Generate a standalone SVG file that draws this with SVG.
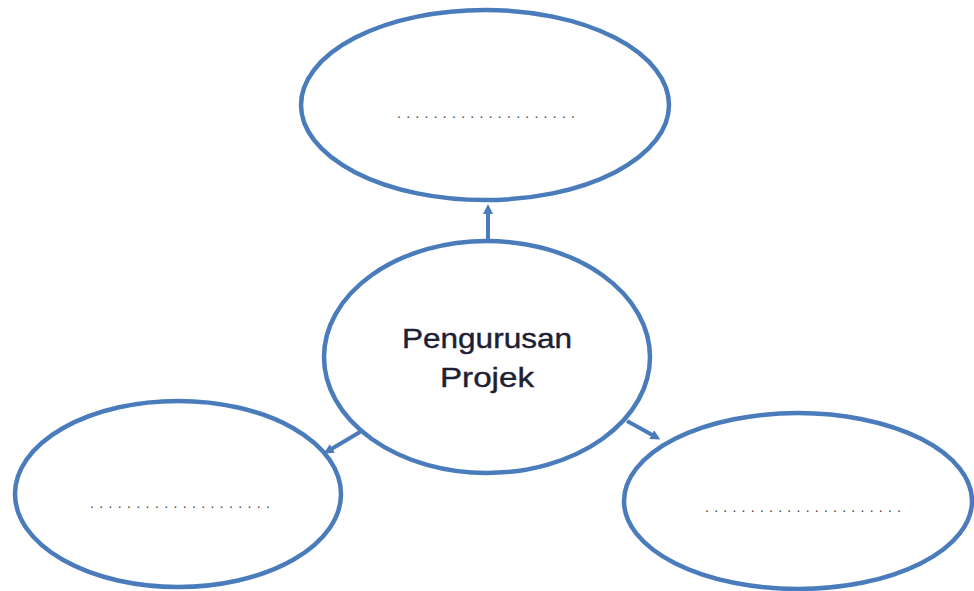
<svg xmlns="http://www.w3.org/2000/svg" width="974" height="591" viewBox="0 0 974 591">
<style>
.node ellipse{fill:#fff;stroke:#4a7cbc;stroke-width:4.5}
.lbl{font-family:"Liberation Sans",Arial,sans-serif;font-size:28px;fill:#202034;stroke:#202034;stroke-width:0.4;text-anchor:middle}
.dots{font-family:"Liberation Sans",Arial,sans-serif;font-size:14px;fill:#444;text-anchor:start}
.conn line{stroke:#4a7cbc;stroke-width:4}
</style>
<defs>
<marker id="ah" markerWidth="10" markerHeight="10" refX="5" refY="5" orient="auto" markerUnits="userSpaceOnUse" viewBox="0 0 10 10">
<path d="M0,0 L10,5 L0,10 z" fill="#4a7cbc"/>
</marker>
</defs>
<rect width="974" height="591" fill="#fff"/>
<g id="connectors" class="conn">
<line x1="488" y1="240" x2="488" y2="209" marker-end="url(#ah)"/>
<line x1="360" y1="432" x2="328" y2="451" marker-end="url(#ah)"/>
<line x1="627" y1="421" x2="656" y2="437" marker-end="url(#ah)"/>
</g>
<g id="top" class="node">
<ellipse cx="485" cy="105" rx="184" ry="95"/>
<text class="dots" x="397" y="118" textLength="178" lengthAdjust="spacing">....................</text>
</g>
<g id="center" class="node">
<ellipse cx="487" cy="357" rx="163" ry="116"/>
<text class="lbl" x="487" y="348" textLength="170" lengthAdjust="spacingAndGlyphs">Pengurusan</text>
<text class="lbl" x="487" y="387" textLength="94" lengthAdjust="spacingAndGlyphs">Projek</text>
</g>
<g id="left" class="node">
<ellipse cx="178" cy="494" rx="163" ry="93"/>
<text class="dots" x="90" y="508" textLength="180" lengthAdjust="spacing">....................</text>
</g>
<g id="right" class="node">
<ellipse cx="798" cy="501" rx="174" ry="88"/>
<text class="dots" x="705" y="512" textLength="196" lengthAdjust="spacing">......................</text>
</g>
</svg>
